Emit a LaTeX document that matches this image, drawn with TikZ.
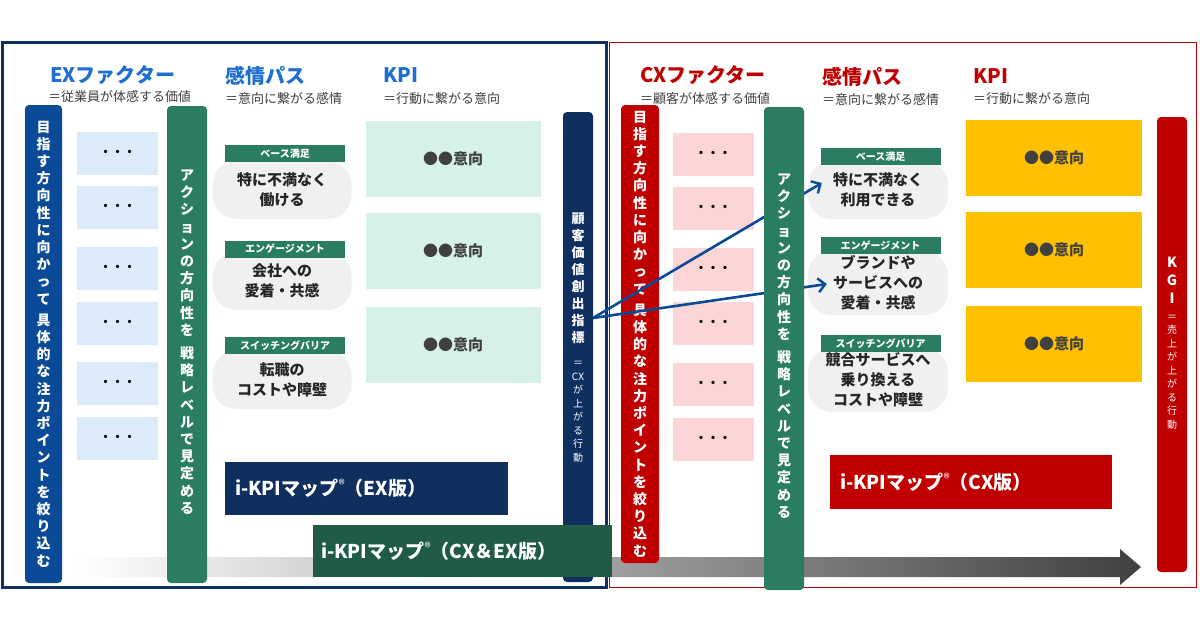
\documentclass[tikz,border=0pt]{standalone}
\usepackage{fontspec}
\setmainfont{Noto Sans CJK JP}
\usetikzlibrary{arrows.meta}
\definecolor{exblue}{HTML}{0B4A97}
\definecolor{navy}{HTML}{0F2F5E}
\definecolor{kgreen}{HTML}{2A7D5F}
\definecolor{dgreen}{HTML}{1F5B45}
\definecolor{kred}{HTML}{C00000}
\definecolor{lblue}{HTML}{DCEBFA}
\definecolor{mint}{HTML}{D6F1E7}
\definecolor{pink}{HTML}{FCD6D6}
\definecolor{gold}{HTML}{FFC000}
\definecolor{hblue}{HTML}{1F6FD1}
\definecolor{subgray}{HTML}{404040}
\newcommand{\fs}[2]{\fontsize{#1}{#2}\selectfont}
\newcommand{\regmark}{\raisebox{6pt}{\fs{13}{13}\mdseries ®}}
\tikzset{
  bar/.style={rounded corners=4pt, inner sep=0pt},
  tate/.style={text=white, font=\bfseries\fs{14}{17.2}, align=center, inner sep=0pt},
  dotbox/.style={minimum width=81, minimum height=43, inner sep=0pt, font=\bfseries\fs{12}{14}},
  kpibox/.style={minimum width=175, minimum height=76, inner sep=0pt, text=subgray, font=\bfseries\fs{15}{18}},
  bubble/.style={fill=gray!12, rounded corners=24pt, minimum width=139, inner sep=0pt, align=center, font=\bfseries\fs{15}{20}, text=black!85},
  tag/.style={fill=kgreen, text=white, minimum width=120, minimum height=17, inner sep=0pt, font=\bfseries\fs{10}{12}},
  head/.style={anchor=west, font=\bfseries\fs{20}{24}, inner sep=0pt},
  subhead/.style={anchor=west, text=subgray, font=\fs{13}{15}, inner sep=0pt},
  banner/.style={text=white, inner sep=0pt, text width=#1, align=left, font=\bfseries\fs{19}{22}},
  link/.style={exblue, line width=2.6pt, -{Straight Barb[length=7pt,width=14pt,line width=2.4pt]}}
}
\begin{document}
\begin{tikzpicture}[x=1pt,y=-1pt]
\useasboundingbox[fill=white] (0,0) rectangle (1200,630);
% frames
\draw[navy, line width=3pt] (2,42) rectangle (606,587);
\draw[kred, line width=1pt] (609,42) rectangle (1196,587);
% gradient arrow
\shade[left color=white, right color=black!75] (75,557) -- (1120,557) -- (1120,549) -- (1141,567) -- (1120,585) -- (1120,577) -- (75,577) -- cycle;
% EX headings
\node[head, text=hblue] (exh) at (50,75) {EXファクター};
\node[subhead] (exs) at (48,97) {＝従業員が体感する価値};
\node[head, text=hblue] (exe) at (225,76) {感情パス};
\node[subhead] (exes) at (225,99) {＝意向に繋がる感情};
\node[head, text=hblue] (exk) at (383,75) {KPI};
\node[subhead] (exks) at (383,99) {＝行動に繋がる意向};
% EX bars
\node[bar, fill=exblue, minimum width=37, minimum height=478] (exl) at (43.5,344) {};
\node[tate] (exlt) at (43.5,344) {目\\指\\す\\方\\向\\性\\に\\向\\か\\っ\\て\\[4pt]具\\体\\的\\な\\注\\力\\ポ\\イ\\ン\\ト\\を\\絞\\り\\込\\む};
\foreach \y [count=\i] in {153.5,207.5,268.5,323.5,383.5,438.5}
  \node[dotbox, fill=lblue] (exd\i) at (117.5,\y) {・・・};
\node[bar, fill=kgreen, minimum width=40, minimum height=477] (exg) at (187,344.5) {};
\node[tate] (exgt) at (187,342) {ア\\ク\\シ\\ョ\\ン\\の\\方\\向\\性\\を\\[6pt]戦\\略\\レ\\ベ\\ル\\で\\見\\定\\め\\る};
% EX emotions
\node[bubble, minimum height=58] (eb1) at (282,190) {特に不満なく\\働ける};
\node[tag] (et1) at (285,153.5) {ベース満足};
\node[bubble, minimum height=58] (eb2) at (282,281) {会社への\\愛着・共感};
\node[tag] (et2) at (285,249) {エンゲージメント};
\node[bubble, minimum height=58] (eb3) at (282,380) {転職の\\コストや障壁};
\node[tag] (et3) at (285,345.5) {スイッチングバリア};
% EX KPI
\foreach \y [count=\i] in {159,250.5,344.5}
  \node[kpibox, fill=mint] (exk\i) at (453,\y) {●●意向};
% customer value bar
\node[bar, fill=navy, minimum width=30, minimum height=470] (cv) at (578,347) {};
\node[tate, font=\bfseries\fs{13}{17}] (cvt) at (578,278) {顧\\客\\価\\値\\創\\出\\指\\標};
\node[tate, font=\fs{10}{13.5}] (cvs) at (578,412) {＝\\CX\\が\\上\\が\\る\\行\\動};
\node[banner=263pt, fill=navy, minimum height=53, inner xsep=10pt] (exban) at (366.5,488.5) {i-KPIマップ\regmark（EX版）};
% CX headings
\node[head, text=kred] (cxh) at (640,75) {CXファクター};
\node[subhead] (cxs) at (640,99) {＝顧客が体感する価値};
\node[head, text=kred] (cxe) at (822,77) {感情パス};
\node[subhead] (cxes) at (822,100) {＝意向に繋がる感情};
\node[head, text=kred] (cxk) at (973,76) {KPI};
\node[subhead] (cxks) at (973,99) {＝行動に繋がる意向};
% CX bars
\node[bar, fill=kred, minimum width=38, minimum height=458] (cxl) at (640,334) {};
\node[tate] (cxlt) at (640,334) {目\\指\\す\\方\\向\\性\\に\\向\\か\\っ\\て\\[4pt]具\\体\\的\\な\\注\\力\\ポ\\イ\\ン\\ト\\を\\絞\\り\\込\\む};
\foreach \y [count=\i] in {154,208.5,269.5,323.5,384,439.5}
  \node[dotbox, fill=pink] (cxd\i) at (713,\y) {・・・};
% links
\coordinate (src) at (593,318);
\node[bubble, minimum height=58, minimum width=140] (cb1) at (878,190) {特に不満なく\\利用できる};
\node[bubble, minimum height=64, minimum width=140] (cb2) at (878,283) {ブランドや\\サービスへの\\愛着・共感};
\node[bubble, minimum height=64, minimum width=140] (cb3) at (878,380) {競合サービスへ\\乗り換える\\コストや障壁};
\draw[link] (src) -- ([xshift=14pt,yshift=7pt]cb1.west);
\draw[link] (src) -- ([xshift=19pt,yshift=-1pt]cb2.west);
\node[tag] (ct1) at (880.5,156.5) {ベース満足};
\node[tag] (ct2) at (880.5,245.5) {エンゲージメント};
\node[tag] (ct3) at (880.5,343.5) {スイッチングバリア};
\node[bar, fill=kgreen, minimum width=40, minimum height=483] (cxg) at (784,348.5) {};
\node[tate] (cxgt) at (784,346) {ア\\ク\\シ\\ョ\\ン\\の\\方\\向\\性\\を\\[6pt]戦\\略\\レ\\ベ\\ル\\で\\見\\定\\め\\る};
% CX KPI
\foreach \y [count=\i] in {157.5,249.5,343.5}
  \node[kpibox, fill=gold, minimum width=176] (cxk\i) at (1054,\y) {●●意向};
% KGI bar
\node[bar, fill=kred, minimum width=30, minimum height=455] (kgi) at (1172,344.5) {};
\node[tate, font=\bfseries\fs{14}{18}] (kgit) at (1172,280) {K\\G\\I};
\node[tate, font=\fs{10}{13.5}] (kgis) at (1172,372) {＝\\売\\上\\が\\上\\が\\る\\行\\動};
\node[banner=262pt, fill=kred, minimum height=54, inner xsep=10pt] (cxban) at (971,482) {i-KPIマップ\regmark（CX版）};
\node[banner=283pt, fill=dgreen, minimum height=52, inner xsep=8pt] (allban) at (462.5,551) {i-KPIマップ\regmark（CX＆EX版）};
\end{tikzpicture}
\end{document}
